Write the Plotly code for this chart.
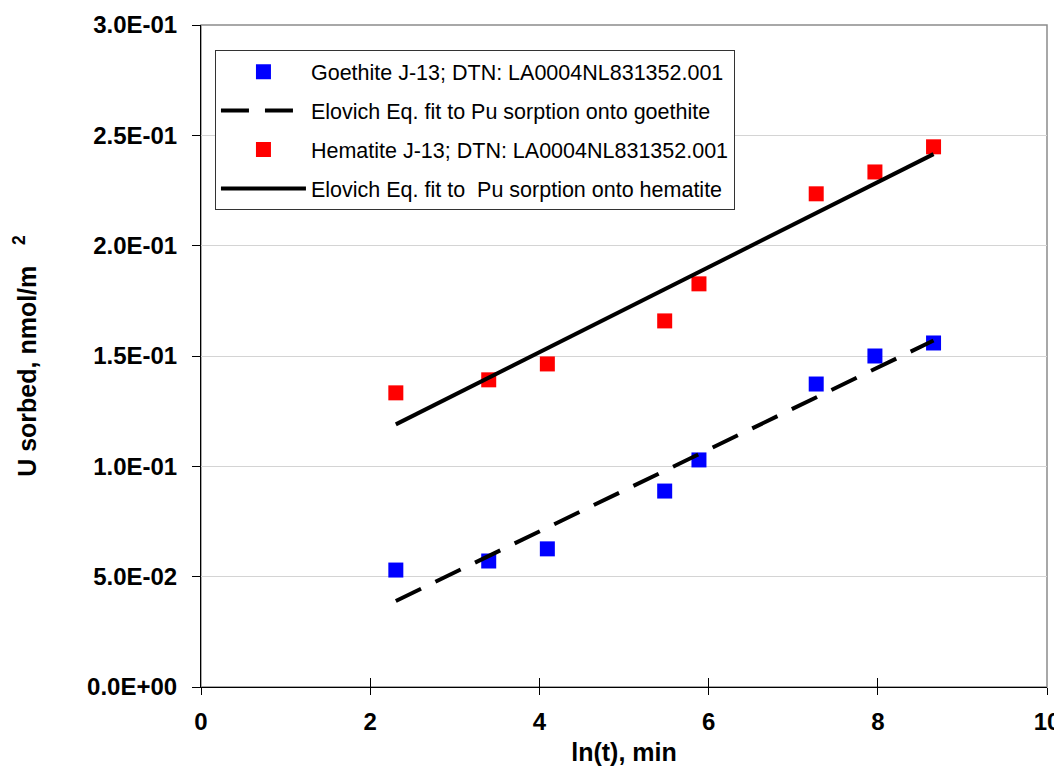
import plotly.graph_objects as go

# ---- data ----
ln_t = [2.303, 3.401, 4.094, 5.481, 5.886, 7.272, 7.966, 8.659]
goethite = [0.0530, 0.0571, 0.0626, 0.0888, 0.1029, 0.1373, 0.1500, 0.1559]
hematite = [0.1333, 0.1392, 0.1464, 0.1659, 0.1827, 0.2235, 0.2334, 0.2448]
fit_x = [2.303, 8.659]
goethite_fit = [0.0390, 0.1570]
hematite_fit = [0.1190, 0.2415]

y_tickvals = [0.0, 0.05, 0.10, 0.15, 0.20, 0.25, 0.30]
y_ticktext = ["0.0E+00", "5.0E-02", "1.0E-01", "1.5E-01", "2.0E-01", "2.5E-01", "3.0E-01"]
x_tickvals = [0, 2, 4, 6, 8, 10]

names = [
    "Goethite J-13; DTN: LA0004NL831352.001",
    "Elovich Eq. fit to Pu sorption onto goethite",
    "Hematite J-13; DTN: LA0004NL831352.001",
    "Elovich Eq. fit to  Pu sorption onto hematite",
]

FONT = "Liberation Sans, Arial, Helvetica, sans-serif"

fig = go.Figure()
fig.add_trace(go.Scatter(x=ln_t, y=goethite, mode="markers", name=names[0],
                         legendgroup="a",
                         marker=dict(symbol="square", size=15, color="#0000ff")))
fig.add_trace(go.Scatter(x=fit_x, y=goethite_fit, mode="lines", name=names[1],
                         legendgroup="b",
                         line=dict(color="black", width=4, dash="28px,16px")))
fig.add_trace(go.Scatter(x=ln_t, y=hematite, mode="markers", name=names[2],
                         legendgroup="c",
                         marker=dict(symbol="square", size=15, color="#ff0000")))
fig.add_trace(go.Scatter(x=fit_x, y=hematite_fit, mode="lines", name=names[3],
                         legendgroup="d",
                         line=dict(color="black", width=4)))
# invisible trace to carry the inner tick marks (crossing ticks)
fig.add_trace(go.Scatter(x=[0, 10], y=[0, 0], xaxis="x2", mode="none",
                         showlegend=False, hoverinfo="skip"))

# the page body has an 8px margin, so the figure is 8px smaller on each axis
fig.update_layout(
    width=1054, height=758,
    margin=dict(l=193, r=15, t=17, b=79),
    paper_bgcolor="white", plot_bgcolor="white",
    font=dict(family=FONT, color="black"),
    showlegend=True,
    legend=dict(
        x=0.0165, y=0.962, xanchor="left", yanchor="top",
        bgcolor="white", bordercolor="#333333", borderwidth=1,
        font=dict(family=FONT, size=21.5, color="black"),
        tracegroupgap=8, itemwidth=85,
    ),
    xaxis=dict(
        range=[0, 10], tickvals=x_tickvals, ticks="outside", ticklen=7,
        tickcolor="black", showline=True, linecolor="black", linewidth=1,
        showgrid=False, zeroline=False, automargin=False,
        tickfont=dict(family=FONT, size=24, color="black", weight="bold"),
        ticklabelstandoff=6,
        title=dict(text="<b>ln(t), min</b>", font=dict(family=FONT, size=25, color="black"),
                   standoff=10),
    ),
    xaxis2=dict(
        range=[0, 10], tickvals=x_tickvals, ticks="inside", ticklen=9,
        tickcolor="black", overlaying="x", side="bottom", showline=False,
        showgrid=False, zeroline=False, showticklabels=False, anchor="y",
        automargin=False,
    ),
    yaxis=dict(
        range=[0, 0.3], tickvals=y_tickvals, ticktext=y_ticktext,
        ticks="outside", ticklen=8, tickcolor="black",
        showline=True, linecolor="black", linewidth=1,
        showgrid=True, gridcolor="#d4d4d4", gridwidth=1, zeroline=False,
        automargin=False,
        tickfont=dict(family=FONT, size=24, color="black", weight="bold"),
        ticklabelstandoff=10,
        title=dict(text="<b>U sorbed, nmol/m\u00a0\u00a0\u00a0<sup>2</sup></b>",
                   font=dict(family=FONT, size=25, color="black"), standoff=43),
    ),
    shapes=[dict(type="rect", xref="paper", yref="paper", x0=0, x1=1, y0=0, y1=1,
                 line=dict(color="#8c8c8c", width=1.5), layer="below")],
)

fig.write_html("out.html")
